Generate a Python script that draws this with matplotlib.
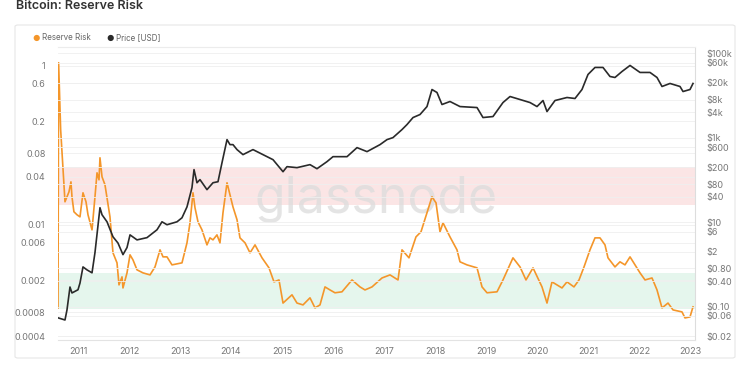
import numpy as np
import matplotlib
matplotlib.use("Agg")
from matplotlib import pyplot as plt
from matplotlib.patches import FancyBboxPatch
from matplotlib.ticker import FixedLocator, NullLocator

plt.rcParams['font.family'] = ['Inter', 'DejaVu Sans']

# Reserve Risk (left axis, log) - decimal year / value
rr_year = [2010.608, 2010.62, 2010.66, 2010.745, 2010.784, 2010.823, 2010.862, 2010.882,
           2010.92, 2010.98, 2011.039, 2011.098, 2011.157, 2011.196, 2011.275, 2011.333,
           2011.373, 2011.412, 2011.431, 2011.471, 2011.529, 2011.627, 2011.686, 2011.765,
           2011.804, 2011.863, 2011.882, 2011.961, 2012.020, 2012.078, 2012.157, 2012.275,
           2012.412, 2012.510, 2012.608, 2012.667, 2012.745, 2012.843, 2013.039, 2013.137,
           2013.196, 2013.255, 2013.294, 2013.353, 2013.431, 2013.529, 2013.588, 2013.647,
           2013.725, 2013.784, 2013.843, 2013.922, 2013.980, 2014.039, 2014.118, 2014.176,
           2014.275, 2014.373, 2014.471, 2014.608, 2014.745, 2014.843, 2014.941, 2015.020,
           2015.196, 2015.294, 2015.412, 2015.549, 2015.647, 2015.745, 2015.843, 2015.941,
           2016.039, 2016.176, 2016.373, 2016.529, 2016.627, 2016.765, 2016.961, 2017.118,
           2017.275, 2017.353, 2017.490, 2017.627, 2017.725, 2017.843, 2017.941, 2018.020,
           2018.098, 2018.157, 2018.294, 2018.431, 2018.490, 2018.627, 2018.824, 2018.922,
           2019.020, 2019.216, 2019.333, 2019.529, 2019.667, 2019.784, 2019.922, 2020.098,
           2020.196, 2020.294, 2020.490, 2020.588, 2020.725, 2020.824, 2020.922, 2021.039,
           2021.137, 2021.235, 2021.333, 2021.392, 2021.529, 2021.627, 2021.725, 2021.824,
           2021.922, 2022.020, 2022.118, 2022.255, 2022.353, 2022.451, 2022.569, 2022.667,
           2022.843, 2022.902, 2023.000, 2023.059]
rr_value = [0.0009, 1.09, 0.157, 0.0195, 0.0225, 0.026, 0.0347, 0.0225,
            0.0146, 0.0134, 0.0126, 0.0253, 0.0195, 0.0134, 0.00865, 0.0225,
            0.0451, 0.0368, 0.0697, 0.0402, 0.0319, 0.0126, 0.00445, 0.00333,
            0.00176, 0.00222, 0.00161, 0.00249, 0.0042, 0.00363, 0.00272, 0.00249,
            0.00235, 0.00296, 0.00485, 0.00396, 0.00396, 0.00314, 0.00333, 0.00594,
            0.0106, 0.0253, 0.0164, 0.0109, 0.00865, 0.0056, 0.00686, 0.00648,
            0.00748, 0.00594, 0.0142, 0.0338, 0.0238, 0.0168, 0.0116, 0.00686,
            0.00594, 0.00445, 0.0056, 0.00385, 0.00288, 0.00192, 0.00203, 0.00104,
            0.00132, 0.00104, 0.000986, 0.00121, 0.000904, 0.000986, 0.00166, 0.00152,
            0.0014, 0.00144, 0.00203, 0.00166, 0.00152, 0.00166, 0.00215, 0.00235,
            0.00203, 0.00485, 0.00385, 0.00706, 0.00817, 0.0142, 0.0225, 0.0189,
            0.00817, 0.0106, 0.00706, 0.00485, 0.00343, 0.00314, 0.00288, 0.00166,
            0.0014, 0.00144, 0.00203, 0.00385, 0.00296, 0.00203, 0.00288, 0.00166,
            0.00104, 0.00192, 0.00161, 0.00192, 0.00166, 0.00203, 0.00296, 0.00485,
            0.00686, 0.00686, 0.0056, 0.00385, 0.00296, 0.00343, 0.00314, 0.00396,
            0.00314, 0.00249, 0.00203, 0.00215, 0.00152, 0.000904, 0.00104, 0.000853,
            0.000805, 0.000676, 0.000697, 0.000931]

# Price (right axis, log, USD)
px_year = [2010.608, 2010.745, 2010.784, 2010.843, 2010.882, 2011.0, 2011.039, 2011.098,
           2011.176, 2011.275, 2011.333, 2011.431, 2011.471, 2011.569, 2011.686, 2011.784,
           2011.882, 2011.961, 2012.020, 2012.157, 2012.353, 2012.549, 2012.647, 2012.745,
           2012.941, 2013.039, 2013.137, 2013.235, 2013.275, 2013.333, 2013.392, 2013.529,
           2013.647, 2013.745, 2013.824, 2013.922, 2013.980, 2014.039, 2014.118, 2014.235,
           2014.431, 2014.627, 2014.824, 2015.020, 2015.098, 2015.294, 2015.549, 2015.686,
           2015.882, 2016.0, 2016.275, 2016.471, 2016.667, 2016.922, 2017.059, 2017.176,
           2017.353, 2017.451, 2017.569, 2017.706, 2017.843, 2017.941, 2018.039, 2018.137,
           2018.294, 2018.490, 2018.824, 2018.941, 2019.137, 2019.333, 2019.471, 2019.667,
           2019.863, 2020.0, 2020.118, 2020.196, 2020.353, 2020.588, 2020.745, 2020.882,
           2021.0, 2021.137, 2021.294, 2021.431, 2021.529, 2021.667, 2021.824, 2022.020,
           2022.216, 2022.353, 2022.451, 2022.608, 2022.804, 2022.863, 2023.0, 2023.059]
px_value = [0.054, 0.048, 0.083, 0.29, 0.21, 0.25, 0.36, 0.87,
            0.74, 0.63, 1.9, 22, 15, 10.2, 4.5, 3.2,
            1.7, 2.5, 5.0, 3.8, 4.3, 6.6, 10.2, 8.7,
            10.2, 12.7, 23, 66, 176, 86, 102, 59,
            86, 91, 258, 906, 689, 689, 525, 399,
            525, 399, 303, 157, 207, 196, 231, 185,
            272, 357, 357, 585, 470, 689, 906, 1010,
            1567, 2060, 3020, 3560, 5500, 13950, 11850, 6150,
            7250, 5500, 5210, 3020, 3190, 6850, 9520, 8080,
            6850, 5500, 7650, 4190, 7650, 9020, 8540, 13950,
            31700, 46500, 46500, 28400, 26900, 37300, 51900, 35400,
            35400, 26900, 16450, 19400, 16450, 12500, 13950, 19400]

left_ticks = [1, 0.6, 0.2, 0.08, 0.04, 0.01, 0.006, 0.002, 0.0008, 0.0004]
left_labels = ['1', '0.6', '0.2', '0.08', '0.04', '0.01', '0.006', '0.002', '0.0008', '0.0004']
right_ticks = [100000, 60000, 20000, 8000, 4000, 1000, 600, 200, 80, 40, 10, 6, 2,
               0.8, 0.4, 0.1, 0.06, 0.02]
right_labels = ['$100k', '$60k', '$20k', '$8k', '$4k', '$1k', '$600', '$200', '$80', '$40',
                '$10', '$6', '$2', '$0.80', '$0.40', '$0.10', '$0.06', '$0.02']
years = list(range(2011, 2024))

red_band = (0.018, 0.054)
green_band = (0.00088, 0.0025)

ORANGE = '#f4962a'
BLACK = '#2a2a2a'
TICK = '#777777'

fig = plt.figure(figsize=(7.5, 3.75), dpi=100)
fig.patch.set_facecolor('white')

# panel behind the chart
panel = FancyBboxPatch((15/750, 1-358/375), 720/750, 333/375,
                       boxstyle='round,pad=0,rounding_size=0.004',
                       transform=fig.transFigure, facecolor='white',
                       edgecolor='#e6e6e6', linewidth=0.8, zorder=-5)
fig.patches.append(panel)

fig.text(16/750, 1-6/375, 'Bitcoin: Reserve Risk', fontsize=9, fontweight='semibold',
         color='#333333', va='center', ha='left')

ax = fig.add_axes([58/750, 1-340/375, 637/750, 293/375])
ax.set_facecolor('none')
ax2 = ax.twinx()

ax.set_yscale('log')
ax2.set_yscale('log')
ax.set_xlim(2010.608, 2023.098)
ax.set_ylim(0.000357, 1.72)
ax2.set_ylim(0.0161, 142000)

ax.axhspan(*red_band, color='#fbe3e3', alpha=0.9, zorder=0, lw=0)
ax.axhspan(*green_band, color='#e3f5ec', alpha=0.9, zorder=0, lw=0)

for t in left_ticks:
    ax.axhline(t, color='#efefef', lw=0.6, zorder=0.5)
for t in right_ticks:
    ax2.axhline(t, color='#efefef', lw=0.6, zorder=0.5)

ax.text(2016.85, 0.021, 'glassnode', fontsize=36, color='#dcdcdc', alpha=0.75,
        ha='center', va='center', zorder=1)

ax.plot(rr_year, rr_value, color=ORANGE, lw=1.2, zorder=3)
ax2.plot(px_year, px_value, color=BLACK, lw=1.2, zorder=3)

ax.yaxis.set_major_locator(FixedLocator(left_ticks))
ax.set_yticklabels(left_labels)
ax.yaxis.set_minor_locator(NullLocator())
ax2.yaxis.set_major_locator(FixedLocator(right_ticks))
ax2.set_yticklabels(right_labels)
ax2.yaxis.set_minor_locator(NullLocator())
ax.set_xticks(years)
ax.set_xticklabels([str(y) for y in years])

for a in (ax, ax2):
    a.tick_params(length=0, labelsize=6.5, labelcolor=TICK)
    for s in a.spines.values():
        s.set_visible(False)
ax.tick_params(axis='y', pad=9)
ax.tick_params(axis='x', pad=5)
ax2.tick_params(axis='y', pad=8)
ax2.spines['right'].set_visible(True)
ax2.spines['right'].set_color('#dddddd')
ax2.spines['bottom'].set_visible(True)
ax2.spines['bottom'].set_color('#e3e3e3')
ax2.spines['top'].set_visible(True)
ax2.spines['top'].set_color('#ececec')

# legend
fig.text(32/750, 1-38/375, '\u25cf', color=ORANGE, fontsize=6, va='center')
fig.text(42/750, 1-38/375, 'Reserve Risk', color='#666666', fontsize=5.8, va='center')
fig.text(106/750, 1-38/375, '\u25cf', color=BLACK, fontsize=6, va='center')
fig.text(116/750, 1-38/375, 'Price [USD]', color='#666666', fontsize=5.8, va='center')

fig.savefig('out.png', dpi=100)
